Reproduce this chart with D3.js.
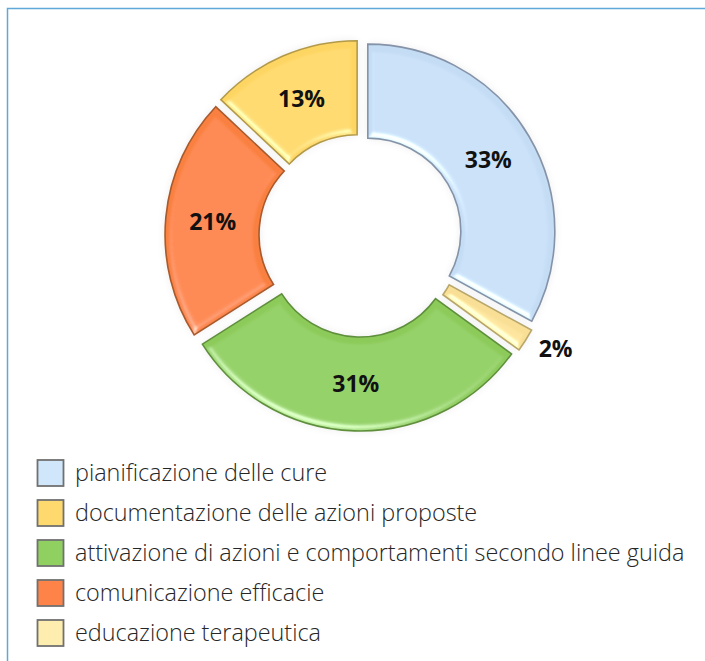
<!DOCTYPE html>
<html><head><meta charset="utf-8">
<script src="https://cdn.jsdelivr.net/npm/d3@7"></script>
<style>html,body{margin:0;padding:0;background:#fff;}svg{display:block;}</style>
</head><body>
<svg id="chart" width="705" height="661"></svg>
<script>
const categories = ["pianificazione delle cure","educazione terapeutica","attivazione di azioni e comportamenti secondo linee guida","comunicazione efficacie","documentazione delle azioni proposte"];
const values = [33, 2, 31, 21, 13];
const labels = ["33%","2%","31%","21%","13%"];
const fills = ["#c4dcf4","#f8df95","#8ccb5a","#f9803f","#fdd562"];
const strokes = ["#8493a8","#b8a66a","#5f8f3c","#a95a2c","#b39a4a"];
const legendOrder = ["pianificazione delle cure","documentazione delle azioni proposte","attivazione di azioni e comportamenti secondo linee guida","comunicazione efficacie","educazione terapeutica"];
const legendFills = ["#cfe6fb","#fed96d","#8fd060","#fd8349","#fdeeb0"];

const svg = d3.select("#chart");
const cx = 360.5, cy = 235.5, R = 187, r = 93, explode = 8.5;

// frame
svg.append("path").attr("d", `M7.5,661 L7.5,8.5 L705,8.5`).attr("fill","none").attr("stroke","#5fa8d8").attr("stroke-width",1.5);

const defs = svg.append("defs");
const f = defs.append("filter").attr("id","bevel").attr("x","-10%").attr("y","-10%").attr("width","120%").attr("height","120%");
f.append("feGaussianBlur").attr("in","SourceAlpha").attr("stdDeviation",3).attr("result","blur");
const spec = f.append("feSpecularLighting").attr("in","blur").attr("surfaceScale",4).attr("specularConstant",0.8).attr("specularExponent",20).attr("lighting-color","#ffffff").attr("result","spec");
spec.append("feDistantLight").attr("azimuth",110).attr("elevation",35);
f.append("feComposite").attr("in","spec").attr("in2","SourceAlpha").attr("operator","in").attr("result","specOut");
f.append("feComposite").attr("in","SourceGraphic").attr("in2","specOut").attr("operator","arithmetic").attr("k1",0).attr("k2",1).attr("k3",0.6).attr("k4",0).attr("result","lit");
const sh = defs.append("filter").attr("id","shadow").attr("x","-20%").attr("y","-20%").attr("width","140%").attr("height","140%");
sh.append("feGaussianBlur").attr("in","SourceAlpha").attr("stdDeviation",5);

const pie = d3.pie().sort(null).value(d => d)(values);
const arc = d3.arc().innerRadius(r).outerRadius(R);
const g = svg.append("g").attr("transform",`translate(${cx},${cy})`);

function off(d){ const a=(d.startAngle+d.endAngle)/2; return [Math.sin(a)*explode, -Math.cos(a)*explode]; }

// soft shadow
g.selectAll("path.sh").data(pie).join("path").attr("class","sh")
  .attr("transform", d=>`translate(${off(d)})`).attr("d",arc)
  .attr("fill","#000").attr("opacity",0.08).attr("filter","url(#shadow)");

const slices = g.selectAll("g.slice").data(pie).join("g").attr("class","slice")
  .attr("transform", d=>`translate(${off(d)})`);
slices.append("path").attr("d",arc).attr("fill",(d,i)=>fills[i]).attr("filter","url(#bevel)");
slices.append("path").attr("d",arc).attr("fill","none").attr("stroke",(d,i)=>strokes[i]).attr("stroke-width",1.6);

// labels
const labelArc = d3.arc().innerRadius((r+R)/2).outerRadius((r+R)/2);
g.selectAll("text.lab").data(pie).join("text").attr("class","lab")
  .attr("transform", (d,i)=>{
    if (values[i] < 5) {
      const a=(d.startAngle+d.endAngle)/2, rr=R+24;
      return `translate(${Math.sin(a)*rr},${-Math.cos(a)*rr})`;
    }
    const c = labelArc.centroid(d), o = off(d);
    return `translate(${c[0]+o[0]},${c[1]+o[1]})`;
  })
  .attr("text-anchor",(d,i)=> values[i]<5 ? "start":"middle")
  .attr("dy","0.36em")
  .attr("font-family","'Open Sans', 'Noto Sans', sans-serif").attr("font-weight",700).attr("font-size",23)
  .attr("fill","#111").text((d,i)=>labels[i]);

// legend
const ly = d3.scalePoint().domain(legendOrder).range([473,633]);
const lg = svg.append("g");
lg.selectAll("rect").data(legendOrder).join("rect")
  .attr("x",37.5).attr("y",d=>ly(d)-13).attr("width",26).attr("height",26)
  .attr("fill",(d,i)=>legendFills[i]).attr("stroke","#707070").attr("stroke-width",1.8);
lg.selectAll("text").data(legendOrder).join("text")
  .attr("x",75).attr("y",d=>ly(d)).attr("dy","0.35em")
  .attr("font-family","'Open Sans', 'Noto Sans', sans-serif").attr("font-weight",300).attr("font-size",23.4)
  .attr("fill","#262626").text(d=>d);
</script>
</body></html>
